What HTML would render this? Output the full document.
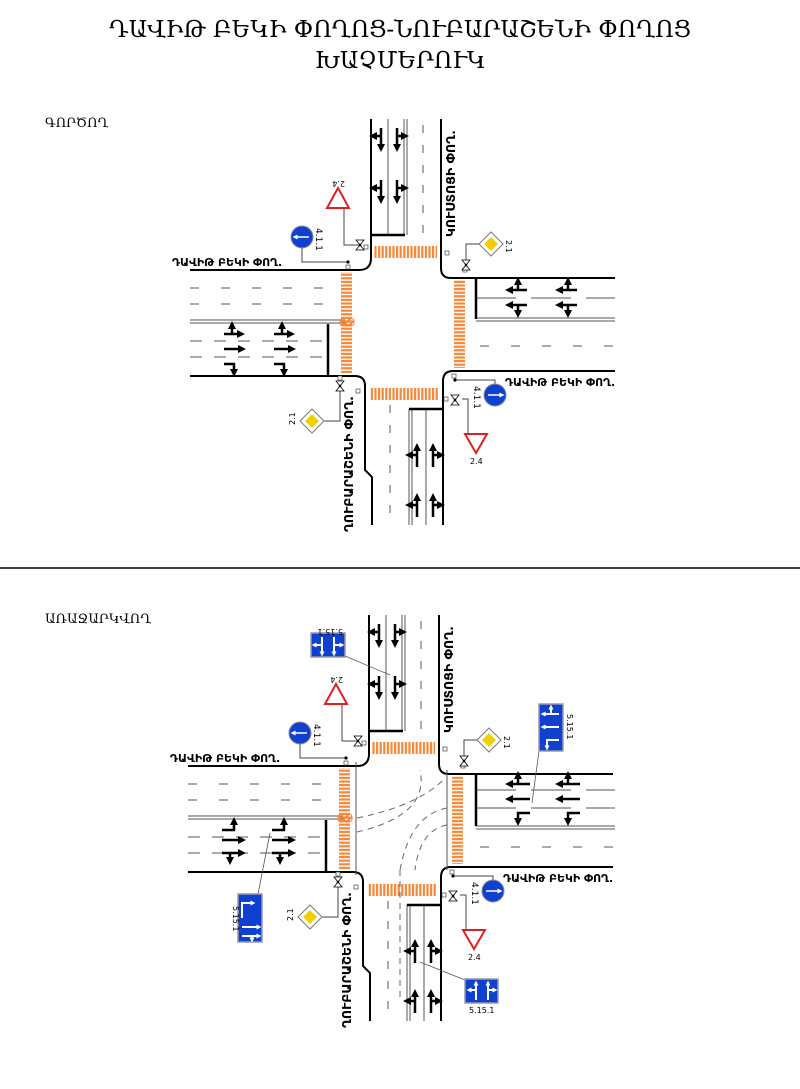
<!DOCTYPE html>
<html><head><meta charset="utf-8"><style>
html,body{margin:0;padding:0;background:#fff}
svg{display:block}
text{font-family:"DejaVu Sans","Liberation Sans",sans-serif}
.t{font-family:"DejaVu Serif","DejaVu Sans",serif}
</style></head><body>
<svg width="800" height="1089" viewBox="0 0 800 1089" xmlns="http://www.w3.org/2000/svg">
<defs>
<marker id="ah" viewBox="0 0 10 10" refX="5" refY="5" markerWidth="8" markerHeight="8" markerUnits="userSpaceOnUse" orient="auto"><path d="M0,0L10,5L0,10z" fill="#000"/></marker>
<marker id="wh" viewBox="0 0 10 10" refX="5" refY="5" markerWidth="5" markerHeight="5" markerUnits="userSpaceOnUse" orient="auto"><path d="M0,0L10,5L0,10z" fill="#fff"/></marker>
<pattern id="pv" width="3.6" height="10" patternUnits="userSpaceOnUse"><rect width="2.2" height="10" fill="#f7883a"/></pattern>
<pattern id="ph" width="10" height="3.6" patternUnits="userSpaceOnUse"><rect width="10" height="2.2" fill="#f7883a"/></pattern>
<pattern id="hat" width="4" height="4" patternUnits="userSpaceOnUse" patternTransform="rotate(45)"><rect width="2" height="4" fill="#f7883a"/></pattern>
<g id="mir"><path d="M-4,-5L0,0L4,-5z M-4,5L0,0L4,5z" fill="#fff" stroke="#000" stroke-width="0.8"/><circle r="1.3" fill="#000"/></g>
<g id="base" fill="none">
 <g stroke="#000" stroke-width="2">
  <path d="M371,119V258Q371,270 359,270H190"/>
  <path d="M441,119V268Q441,278 451,278H615"/>
  <path d="M190,376H355Q365,376 365,386V470L372,477V525"/>
  <path d="M615,371H453Q443,371 443,381V525"/>
 </g>
 <g stroke="#555" stroke-width="1">
  <path d="M388,119V235"/><path d="M404,119V235"/><path d="M407,119V235"/>
  <path d="M423,125V240" stroke-dasharray="8,12"/>
  <path d="M409,409V525"/><path d="M412,409V525"/><path d="M426,409V525"/>
  <path d="M390,405V525" stroke-dasharray="8,12"/>
  <path d="M190,288H340" stroke-dasharray="9,22"/>
  <path d="M190,304H340" stroke-dasharray="9,22"/>
  <path d="M190,320H345"/><path d="M190,323H345"/>
  <path d="M190,341H328" stroke-dasharray="12,12"/>
  <path d="M190,357H328" stroke-dasharray="12,12"/>
 </g>
 <path d="M371,235H405" stroke="#000" stroke-width="2.5"/>
 <path d="M409,409H443" stroke="#000" stroke-width="2.5"/>
 <path d="M328,324V376" stroke="#000" stroke-width="2.5"/>
 <rect x="374" y="246" width="63" height="12" fill="url(#pv)"/>
 <rect x="370" y="388" width="68" height="12" fill="url(#pv)"/>
 <rect x="341" y="272" width="11" height="102" fill="url(#ph)"/>
 <rect x="454" y="280" width="11" height="88" fill="url(#ph)"/>
 <rect x="340" y="318" width="14" height="8" rx="3" fill="url(#hat)" stroke="#f7883a" stroke-width="1"/>
 <text x="172" y="266" font-size="11" font-weight="bold" fill="#000" stroke="none">ԴԱՎԻԹ ԲԵԿԻ ՓՈՂ.</text>
 <text transform="translate(455,237) rotate(-90)" font-size="12.5" font-weight="bold" fill="#000" stroke="none">ԿՈՒՍՏՈՑԻ ՓՈՂ.</text>
 <text transform="translate(353,532) rotate(-90)" font-size="12.5" font-weight="bold" fill="#000" stroke="none">ՂՈՒԲԱՐԱՇԵՆԻ ՓՈՂ.</text>
 <text x="505" y="386" font-size="11" font-weight="bold" fill="#000" stroke="none">ԴԱՎԻԹ ԲԵԿԻ ՓՈՂ.</text>
 <g stroke="#444" stroke-width="1">
  <path d="M302,248V262H348"/><path d="M344,208V245H360"/>
  <path d="M480,244H466V265"/><path d="M495,395V380H455"/>
  <path d="M462,399H468V434"/><path d="M312,421H340V386"/>
 </g>
 <g fill="#fff" stroke="#444" stroke-width="0.7">
  <rect x="346" y="265" width="4" height="4"/><rect x="364" y="245" width="4" height="4"/>
  <rect x="445" y="251" width="4" height="4"/><rect x="463" y="268" width="4" height="4"/>
  <rect x="452" y="374" width="4" height="4"/><rect x="444" y="397" width="4" height="4"/>
  <rect x="338" y="376" width="4" height="4"/><rect x="356" y="389" width="4" height="4"/>
 </g>
 <use href="#mir" x="360" y="245"/>
 <use href="#mir" x="466" y="265"/>
 <use href="#mir" x="340" y="386"/>
 <use href="#mir" x="455" y="400"/>
 <g fill="#000"><circle cx="348" cy="262" r="1.6"/><circle cx="455" cy="380" r="1.6"/></g>
 <circle cx="302" cy="237" r="11" fill="#1040d0" stroke="#889" stroke-width="1"/>
 <path d="M309,237H295" stroke="#fff" stroke-width="1.5" marker-end="url(#wh)"/>
 <text transform="translate(316,228) rotate(90)" font-size="9" fill="#000">4.1.1</text>
 <path d="M338,188L349,208H327z" fill="#fff" stroke="#e02020" stroke-width="2"/>
 <text transform="translate(345,181) rotate(180)" font-size="8" fill="#000">2.4</text>
 <path d="M491,232L503,244L491,256L479,244z" fill="#fff" stroke="#777" stroke-width="1"/>
 <path d="M491,237L498,244L491,251L484,244z" fill="#f2d000"/>
 <text transform="translate(506,240) rotate(90)" font-size="8" fill="#000">2.1</text>
 <path d="M312,409L324,421L312,433L300,421z" fill="#fff" stroke="#777" stroke-width="1"/>
 <path d="M312,414L319,421L312,428L305,421z" fill="#f2d000"/>
 <text transform="translate(295,425) rotate(-90)" font-size="8" fill="#000">2.1</text>
 <circle cx="495" cy="395" r="11" fill="#1040d0" stroke="#889" stroke-width="1"/>
 <path d="M488,395H502" stroke="#fff" stroke-width="1.5" marker-end="url(#wh)"/>
 <text transform="translate(474,386) rotate(90)" font-size="9" fill="#000">4.1.1</text>
 <path d="M465,434H487L476,453z" fill="#fff" stroke="#e02020" stroke-width="2"/>
 <text x="470" y="464" font-size="8" fill="#000">2.4</text>
 <g stroke="#000" stroke-width="2.5" marker-end="url(#ah)">
  <path d="M381,128V148"/><path d="M381,136H373"/><path d="M397,128V148"/><path d="M397,136H405"/>
  <path d="M381,180V200"/><path d="M381,188H373"/><path d="M397,180V200"/><path d="M397,188H405"/>
  <path d="M417,467V447"/><path d="M417,455H409"/><path d="M433,467V447"/><path d="M433,455H441"/>
  <path d="M417,517V497"/><path d="M417,505H409"/><path d="M433,517V497"/><path d="M433,505H441"/>
 </g>
</g>
</defs>

<text class="t" x="400" y="37" font-size="23" text-anchor="middle" fill="#000">ԴԱՎԻԹ ԲԵԿԻ ՓՈՂՈՑ-ՆՈՒԲԱՐԱՇԵՆԻ ՓՈՂՈՑ</text>
<text class="t" x="400" y="68" font-size="23" text-anchor="middle" fill="#000">ԽԱՉՄԵՐՈՒԿ</text>
<text class="t" x="45" y="127" font-size="13" fill="#000">ԳՈՐԾՈՂ</text>
<text class="t" x="45" y="623" font-size="13" fill="#000">ԱՌԱՋԱՐԿՎՈՂ</text>
<path d="M0,568H800" stroke="#000" stroke-width="1.5"/>

<use href="#base"/>
<g fill="none">
 <g stroke="#555" stroke-width="1">
  <path d="M476,298H615" stroke-dasharray="40,15"/>
  <path d="M476,318H615"/><path d="M476,321H615"/>
  <path d="M480,346H615" stroke-dasharray="9,22"/>
 </g>
 <path d="M476,278V319" stroke="#000" stroke-width="2.5"/>
 <g stroke="#000" stroke-width="2.5" marker-end="url(#ah)">
  <path d="M527,290H509"/><path d="M518,290V281"/><path d="M527,305H509"/><path d="M518,305V314"/>
  <path d="M577,290H559"/><path d="M568,290V281"/><path d="M577,305H559"/><path d="M568,305V314"/>
  <path d="M224,334H241"/><path d="M232,334V325"/><path d="M224,349H242"/><path d="M224,364H234V373"/>
  <path d="M274,334H291"/><path d="M282,334V325"/><path d="M274,349H292"/><path d="M274,364H284V373"/>
 </g>
</g>

<g transform="translate(-2,496)"><use href="#base"/></g>
<g fill="none">
 <g stroke="#555" stroke-width="1">
  <path d="M476,790H615" stroke-dasharray="40,15"/>
  <path d="M476,808H615" stroke-dasharray="40,15"/>
  <path d="M476,826H615"/><path d="M476,829H615"/>
  <path d="M480,847H615" stroke-dasharray="9,22"/>
  <path d="M356,762V875"/><path d="M447,770V870"/>
 </g>
 <path d="M476,774V826" stroke="#000" stroke-width="2.5"/>
 <g stroke="#666" stroke-width="1" stroke-dasharray="6,5">
  <path d="M357,818Q420,805 445,778"/>
  <path d="M357,832Q430,815 420,770"/>
  <path d="M447,808Q410,815 400,870"/>
  <path d="M447,825Q420,830 415,870"/>
  <path d="M400,870V1000"/>
 </g>
 <g stroke="#000" stroke-width="2.5" marker-end="url(#ah)">
  <path d="M530,784H509"/><path d="M518,784V775"/><path d="M530,799H509"/><path d="M530,813H518V822"/>
  <path d="M580,784H559"/><path d="M568,784V775"/><path d="M580,799H559"/><path d="M580,813H568V822"/>
  <path d="M222,830H234V821"/><path d="M222,840H242"/><path d="M222,853H242"/><path d="M230,853V861"/>
  <path d="M272,830H284V821"/><path d="M272,840H292"/><path d="M272,853H292"/><path d="M280,853V861"/>
 </g>
 <g stroke="#555" stroke-width="0.8">
  <path d="M345,656L390,675"/><path d="M539,751L532,803"/><path d="M258,894L270,833"/><path d="M465,980L420,962"/>
 </g>
 <rect x="311" y="633" width="34" height="24" fill="#1040d0" stroke="#99a" stroke-width="1.5"/>
 <g stroke="#fff" stroke-width="2" marker-end="url(#wh)"><path d="M322,637V654"/><path d="M334,637V654"/><path d="M322,645H314"/><path d="M334,645H342"/></g>
 <text transform="translate(343,629) rotate(180)" font-size="8" fill="#000">5.15.1</text>
 <rect x="539" y="704" width="24" height="47" fill="#1040d0" stroke="#99a" stroke-width="1.5"/>
 <g stroke="#fff" stroke-width="2" marker-end="url(#wh)"><path d="M559,714H543"/><path d="M551,714V707"/><path d="M559,727H543"/><path d="M559,740H547V748"/></g>
 <text transform="translate(567,714) rotate(90)" font-size="8" fill="#000">5.15.1</text>
 <rect x="238" y="894" width="24" height="48" fill="#1040d0" stroke="#99a" stroke-width="1.5"/>
 <g stroke="#fff" stroke-width="2" marker-end="url(#wh)"><path d="M242,918V903H253"/><path d="M242,927H259"/><path d="M242,936H259"/><path d="M252,936V940"/></g>
 <text transform="translate(233,906) rotate(90)" font-size="8" fill="#000">5.15.1</text>
 <rect x="465" y="979" width="33" height="24" fill="#1040d0" stroke="#99a" stroke-width="1.5"/>
 <g stroke="#fff" stroke-width="2" marker-end="url(#wh)"><path d="M476,1000V983"/><path d="M488,1000V983"/><path d="M476,990H469"/><path d="M488,990H495"/></g>
 <text x="469" y="1013" font-size="8" fill="#000">5.15.1</text>
</g>
</svg>
</body></html>
